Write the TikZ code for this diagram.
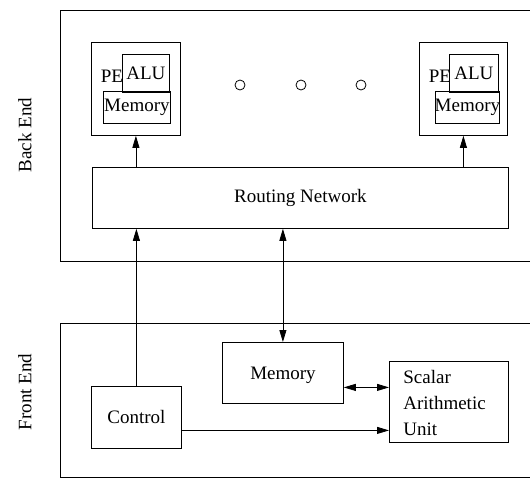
\documentclass[tikz,border=0pt]{standalone}
\usepackage{fontspec}
\setmainfont{Liberation Serif}
\usetikzlibrary{arrows.meta}
\begin{document}
\begin{tikzpicture}[x=1pt,y=-1pt,
  line width=0.8pt,
  every node/.style={font=\fontsize{19}{26}\selectfont},
  box/.style={draw, rectangle, anchor=north west, inner sep=0pt},
  lbl/.style={inner sep=0pt},
  dot/.style={draw, circle, minimum size=10pt, inner sep=0pt},
  arr/.style={-{Triangle[length=12pt,width=7pt]}},
  arrs/.style={{Triangle[length=12pt,width=7pt]}-{Triangle[length=12pt,width=7pt]}}]
\useasboundingbox (0,0) rectangle (530,479);

% back end frame (open on the right)
\coordinate (beTR) at (530,10);
\coordinate (beBR) at (530,261);
\draw (beTR) -- (60,10) -- (60,261) -- (beBR);
\node[lbl, rotate=90] (belabel) at (25,135) {Back End};

% front end frame (open on the right)
\coordinate (feTR) at (530,323);
\coordinate (feBR) at (530,477);
\draw (feTR) -- (60,323) -- (60,477) -- (feBR);
\node[lbl, rotate=90] (felabel) at (25,392) {Front End};

% processing element, left
\node[box, minimum width=89pt, minimum height=93pt] (pe1) at (91,42) {};
\node[box, minimum width=47pt, minimum height=38pt] (alu1) at (122,54) {};
\node[box, minimum width=67pt, minimum height=32pt] (mem1) at (103,91) {};
\node[lbl] (pe1t) at (112,76) {PE};
\node[lbl] (alu1t) at (alu1.center) {ALU};
\node[lbl] (mem1t) at (mem1.center) {Memory};

% processing element, right
\node[box, minimum width=88pt, minimum height=93pt] (pe2) at (419,42) {};
\node[box, minimum width=49pt, minimum height=38pt] (alu2) at (449,54) {};
\node[box, minimum width=64pt, minimum height=32pt] (mem2) at (435,91) {};
\node[lbl] (pe2t) at (440,76) {PE};
\node[lbl] (alu2t) at (alu2.center) {ALU};
\node[lbl] (mem2t) at (mem2.center) {Memory};

% ellipsis between the elements
\node[dot] (d1) at (240,85) {};
\node[dot] (d2) at (301,85) {};
\node[dot] (d3) at (361,85) {};

% routing network
\node[box, minimum width=416pt, minimum height=61pt] (rn) at (92,167) {};
\node[lbl] (rnt) at (rn.center) {Routing Network};

% front end units
\node[box, minimum width=90pt, minimum height=62pt] (ctl) at (91,386) {};
\node[lbl] (ctlt) at (ctl.center) {Control};
\node[box, minimum width=121pt, minimum height=61pt] (mem) at (222,342) {};
\node[lbl] (memt) at (283,375) {Memory};
\node[box, minimum width=119pt, minimum height=81pt] (sau) at (389,361) {};
\node[lbl, anchor=north west, align=left] (saut) at (403,370) {Scalar\\Arithmetic\\Unit};

% connections
\draw[arr] (pe1.south |- rn.north) -- (pe1.south);
\draw[arr] (pe2.south |- rn.north) -- (pe2.south);
\draw[arr] (ctl.north) -- (ctl.north |- rn.south);
\draw[arrs] (mem.north) -- (mem.north |- rn.south);
\path ([yshift=-14.5pt]mem.east) coordinate (ms);
\draw[arrs] (ms) -- (ms -| sau.west);
\path ([yshift=-13pt]ctl.east) coordinate (cs);
\draw[arr] (cs) -- (cs -| sau.west);
\end{tikzpicture}
\end{document}
